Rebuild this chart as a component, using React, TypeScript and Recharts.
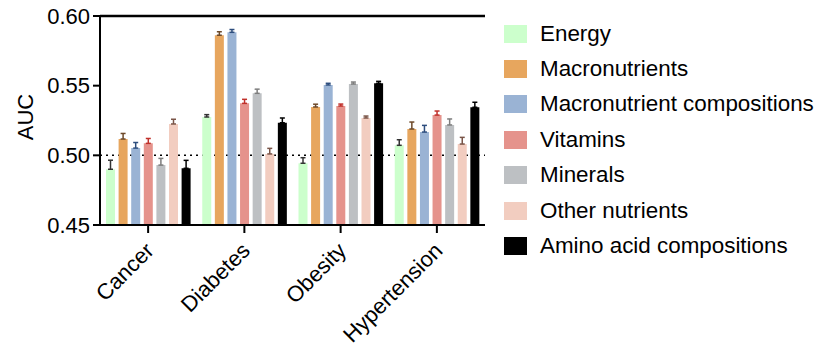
import {
  Bar,
  BarChart,
  ErrorBar,
  Label,
  Legend,
  ReferenceLine,
  XAxis,
  YAxis,
} from 'recharts';

const categories = ['Cancer', 'Diabetes', 'Obesity', 'Hypertension'];

const energy = [0.49, 0.5275, 0.4943, 0.5072];
const energyErr = [0.0065, 0.0017, 0.004, 0.004];
const macronutrients = [0.5117, 0.5862, 0.5347, 0.5189];
const macronutrientsErr = [0.004, 0.0025, 0.002, 0.005];
const macroCompositions = [0.5052, 0.5883, 0.5505, 0.5167];
const macroCompositionsErr = [0.004, 0.002, 0.0012, 0.0048];
const vitamins = [0.5086, 0.5373, 0.5354, 0.5289];
const vitaminsErr = [0.0035, 0.0029, 0.0014, 0.0029];
const minerals = [0.493, 0.5445, 0.5512, 0.5218];
const mineralsErr = [0.0048, 0.003, 0.0014, 0.0043];
const otherNutrients = [0.5225, 0.501, 0.5268, 0.5081];
const otherNutrientsErr = [0.0034, 0.004, 0.0014, 0.0048];
const aminoAcids = [0.4907, 0.5234, 0.5517, 0.5345];
const aminoAcidsErr = [0.0057, 0.0034, 0.0014, 0.0036];

const yTicks = [0.45, 0.5, 0.55, 0.6];

const SERIES = [
  { key: 'energy', name: 'Energy', values: energy, errors: energyErr, fill: '#CCFFCC', errColor: '#333333' },
  { key: 'macro', name: 'Macronutrients', values: macronutrients, errors: macronutrientsErr, fill: '#E7A65E', errColor: '#6E4A2A' },
  { key: 'macroComp', name: 'Macronutrient compositions', values: macroCompositions, errors: macroCompositionsErr, fill: '#9AB3D4', errColor: '#2E4E7E' },
  { key: 'vitamins', name: 'Vitamins', values: vitamins, errors: vitaminsErr, fill: '#E5938C', errColor: '#C0302A' },
  { key: 'minerals', name: 'Minerals', values: minerals, errors: mineralsErr, fill: '#BDC0C3', errColor: '#7D7D7D' },
  { key: 'other', name: 'Other nutrients', values: otherNutrients, errors: otherNutrientsErr, fill: '#F2CDC0', errColor: '#7A5548' },
  { key: 'amino', name: 'Amino acid compositions', values: aminoAcids, errors: aminoAcidsErr, fill: '#000000', errColor: '#000000' },
];

const data = categories.map((category, i) => {
  const row: Record<string, string | number | number[]> = { category };
  SERIES.forEach((s) => {
    row[s.key] = s.values[i];
    row[`${s.key}Err`] = [0, s.errors[i]];
  });
  return row;
});

const FONT = '"Liberation Sans", Arial, sans-serif';

function CategoryTick({ x, y, payload }: { x: number; y: number; payload: { value: string } }) {
  return (
    <text
      x={x + 7}
      y={y + 17}
      transform={`rotate(-45, ${x + 7}, ${y + 17})`}
      textAnchor="end"
      fontSize={22}
      fontFamily={FONT}
      fill="#000"
    >
      {payload.value}
    </text>
  );
}

function LegendList() {
  return (
    <div style={{ fontFamily: FONT, fontSize: 22.4, color: '#000' }}>
      {SERIES.map((s) => (
        <div key={s.key} style={{ display: 'flex', alignItems: 'center', height: 35.4 }}>
          <span style={{ width: 23, height: 18, background: s.fill, marginRight: 13, flexShrink: 0 }} />
          <span style={{ whiteSpace: 'nowrap' }}>{s.name}</span>
        </div>
      ))}
    </div>
  );
}

export default function App() {
  return (
    <div style={{ position: 'absolute', left: 0, top: 0, background: '#fff' }}>
      <BarChart
        width={827}
        height={350}
        data={data}
        margin={{ top: 16, right: 342, bottom: 5, left: 0 }}
        barGap={3.6}
        barCategoryGap={6}
      >
        <XAxis
          dataKey="category"
          height={120}
          tickSize={8}
          tick={CategoryTick}
          interval={0}
          axisLine={{ stroke: '#000', strokeWidth: 2 }}
          tickLine={{ stroke: '#000', strokeWidth: 2 }}
        />
        <YAxis
          width={100}
          domain={[0.45, 0.6]}
          ticks={yTicks}
          allowDataOverflow
          tickFormatter={(v: number) => v.toFixed(2)}
          tickSize={7}
          tickMargin={3}
          tick={{ fontSize: 22, fontFamily: FONT, fill: '#000' }}
          axisLine={{ stroke: '#000', strokeWidth: 2 }}
          tickLine={{ stroke: '#000', strokeWidth: 2 }}
        >
          <Label
            content={() => (
              <text
                x={33}
                y={117}
                transform="rotate(-90, 33, 117)"
                textAnchor="middle"
                fontSize={22}
                fontFamily={FONT}
                fill="#000"
              >
                AUC
              </text>
            )}
          />
        </YAxis>
        <YAxis
          yAxisId="frame"
          orientation="right"
          width={0}
          domain={[0.45, 0.6]}
          tick={false}
          tickLine={false}
          axisLine={{ stroke: '#444', strokeWidth: 1.5 }}
        />
        <ReferenceLine y={0.5} stroke="#000" strokeWidth={1.5} strokeDasharray="2 4" zIndex={-10} />
        <ReferenceLine y={0.6} stroke="#000" strokeWidth={2.5} />
        {SERIES.map((s) => (
          <Bar key={s.key} dataKey={s.key} name={s.name} fill={s.fill} isAnimationActive={false}>
            <ErrorBar dataKey={`${s.key}Err`} direction="y" width={2.5} stroke={s.errColor} strokeWidth={1.5} />
          </Bar>
        ))}
        <Legend
          layout="horizontal"
          align="center"
          verticalAlign="middle"
          content={LegendList}
          wrapperStyle={{ left: 504, top: 16, width: 322 }}
        />
      </BarChart>
    </div>
  );
}
